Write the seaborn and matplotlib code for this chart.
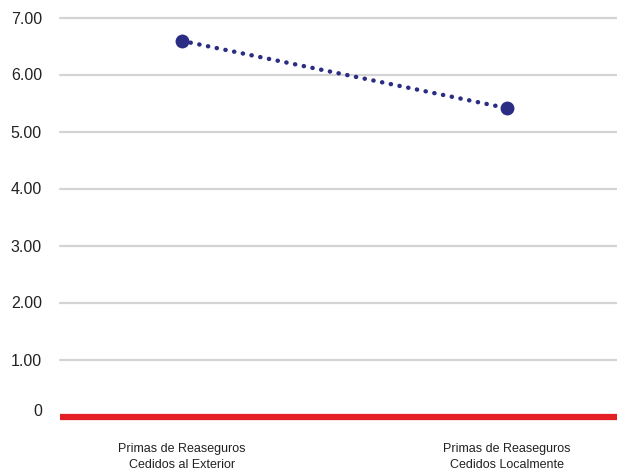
import matplotlib
matplotlib.use("Agg")
import matplotlib.pyplot as plt
import matplotlib.transforms as mtransforms
import seaborn as sns
import pandas as pd

categories = ["Primas de Reaseguros\nCedidos al Exterior",
              "Primas de Reaseguros\nCedidos Localmente"]
values = [6.59, 5.41]
yticks = [0, 1, 2, 3, 4, 5, 6, 7]
ylabels = ["0", "1.00", "2.00", "3.00", "4.00", "5.00", "6.00", "7.00"]

sns.set_style("white")
plt.rcParams["font.family"] = ["Liberation Sans", "DejaVu Sans"]

df = pd.DataFrame({"cat": categories, "val": values})

fig = plt.figure(figsize=(6.17, 4.76), dpi=100)
ax = fig.add_axes([60 / 617, (476 - 416.5) / 476, 1 - 60 / 617, (416.5 - 17.5) / 476])

# gridlines
for t in yticks[1:]:
    ax.axhline(t, color="#d4d4d4", lw=1.6, zorder=0, clip_on=False)
ax.axhline(0, color="#e31e24", lw=4.5, zorder=1, clip_on=False,
           solid_capstyle="butt")

sns.lineplot(data=df, x="cat", y="val", ax=ax, color="#2b2d84",
             linestyle=(0, (0.05, 1.95)), lw=3.2, marker="o", markersize=10,
             markeredgewidth=0, dash_capstyle="round", zorder=3)

ax.set_xlim(-0.375, 1.339)
ax.set_ylim(0, 7)
ax.set_yticks(yticks)
ax.set_yticklabels(ylabels, fontsize=11.5, color="#222222")
ax.tick_params(axis="y", length=0, pad=13)
ax.tick_params(axis="x", length=0, pad=19, labelsize=9, colors="#222222")
for lbl in ax.get_xticklabels():
    lbl.set_linespacing(1.45)
# shift the zero label up slightly as in the reference
zl = ax.get_yticklabels()[0]
zl.set_transform(zl.get_transform() + mtransforms.ScaledTranslation(0, 7 / 100, fig.dpi_scale_trans))

ax.set_xlabel("")
ax.set_ylabel("")
for s in ax.spines.values():
    s.set_visible(False)

fig.savefig("out.png", dpi=100)
